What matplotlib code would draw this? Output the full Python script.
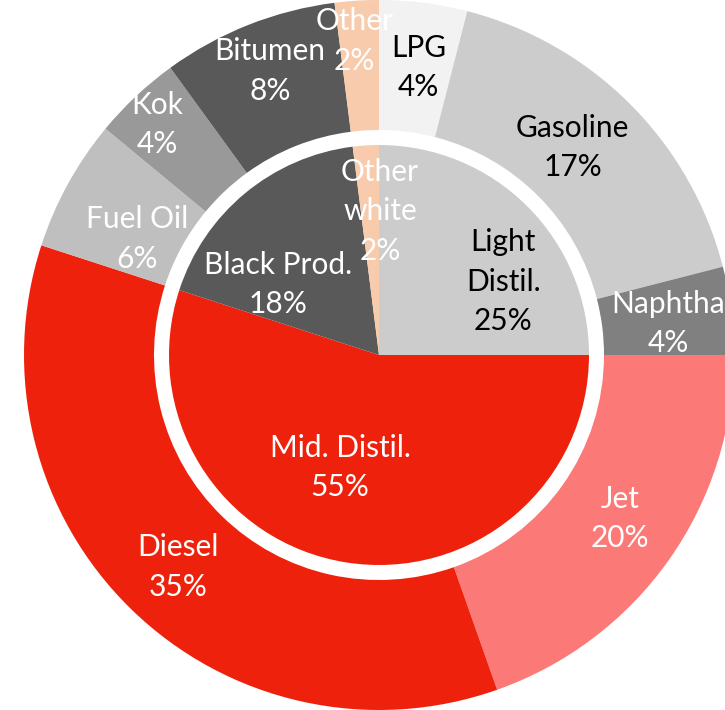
import matplotlib.pyplot as plt
import numpy as np

plt.rcParams['font.family'] = ['Lato', 'DejaVu Sans']

# outer ring: single products (%)
outer_names = ['LPG', 'Gasoline', 'Naphtha', 'Jet', 'Diesel', 'Fuel Oil', 'Kok', 'Bitumen', 'Other']
outer_pct = [4, 17, 4, 19.6, 35.4, 6, 4, 8, 2]

# inner pie: product groups (%)
inner_names = ['Light\nDistil.', 'Mid. Distil.', 'Black Prod.', 'Other\nwhite']
inner_pct = [25, 55, 18, 2]

outer_colors = ['#f2f2f2', '#cccccc', '#808080', '#fb7a77', '#ee220c',
                '#bfbfbf', '#999999', '#595959', '#f8cbad']
outer_txt = ['black', 'black', 'white', 'white', 'white', 'white', 'white', 'white', 'white']
inner_colors = ['#cccccc', '#ee220c', '#595959', '#f8cbad']
inner_txt = ['black', 'white', 'white', 'white']

# label placement: radius (px) and angle nudge (deg) from the wedge middle
outer_lab_r = [290, 284, 291, 291, 292, 268, 320, 304, 315]
outer_nudge = [-0.6, 2, -1, 1.1, 0.8, 3.2, 0.7, -0.6, 0.9]
inner_lab_r = [144, 119, 123, 144]
inner_nudge = [-14.5, -10, 15.4, -4]

fig = plt.figure(figsize=(7.25, 7.10), dpi=100)
ax = fig.add_axes([0, 0, 1, 1])

R_OUT, R_RING_IN, R_IN = 355, 225, 210

w_out, _ = ax.pie(outer_pct, radius=R_OUT, colors=outer_colors, startangle=90,
                  counterclock=False, wedgeprops=dict(width=R_OUT - R_RING_IN, linewidth=0))
w_in, _ = ax.pie(inner_pct, radius=R_IN, colors=inner_colors, startangle=90,
                 counterclock=False, wedgeprops=dict(linewidth=0))


def put_labels(wedges, names, pcts, radii, nudges, colors):
    for w, n, p, r, d, c in zip(wedges, names, pcts, radii, nudges, colors):
        a = np.deg2rad((w.theta1 + w.theta2) / 2 + d)
        ax.text(r * np.cos(a), r * np.sin(a), f'{n}\n{p:.0f}%', ha='center', va='center',
                color=c, fontsize=21.5, linespacing=1.5)


put_labels(w_out, outer_names, outer_pct, outer_lab_r, outer_nudge, outer_txt)
put_labels(w_in, inner_names, inner_pct, inner_lab_r, inner_nudge, inner_txt)

ax.set_xlim(-379, 346)
ax.set_ylim(-355, 355)
ax.set_aspect('equal')
ax.axis('off')

fig.savefig('out.png', dpi=100, facecolor='white')
